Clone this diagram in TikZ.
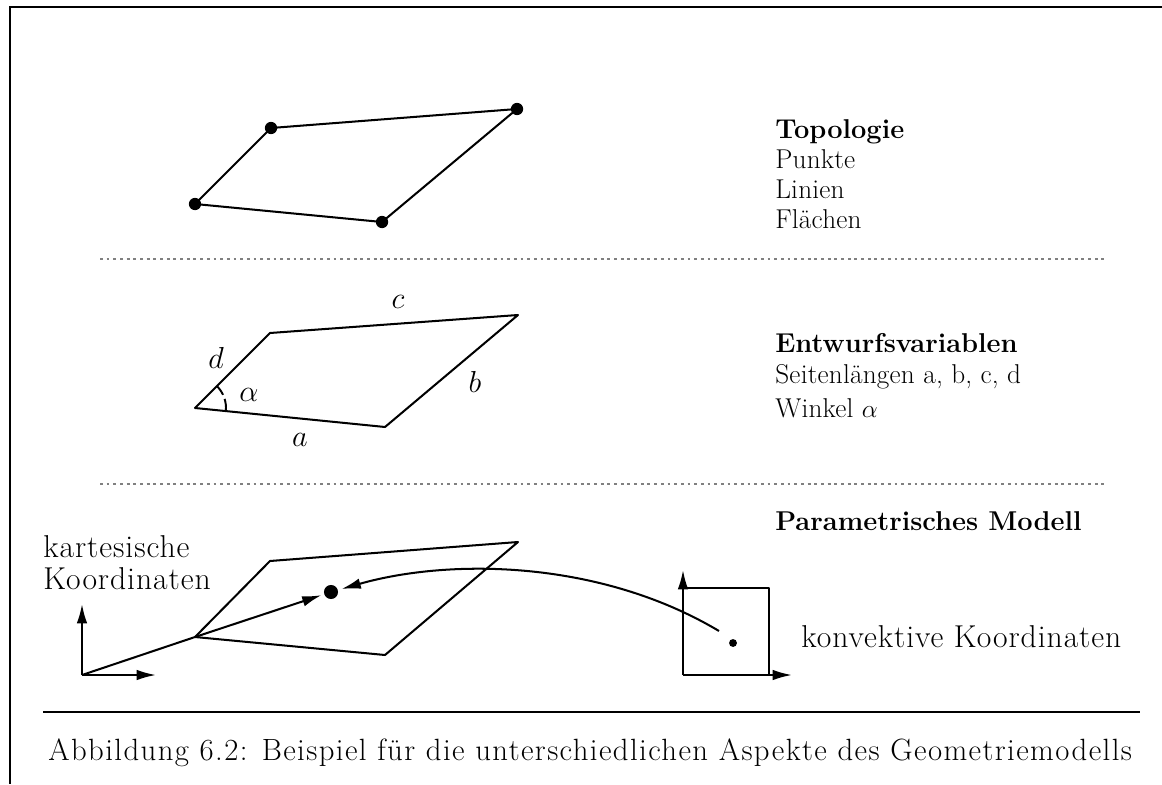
\documentclass[tikz,border=0pt]{standalone}
\usepackage{fontspec}
\newfontfamily\capfnt{Latin Modern Roman}[LetterSpace=4.6]
\newfontfamily\bigfnt{Latin Modern Roman}[LetterSpace=3]
\newfontfamily\lblfnt{Latin Modern Roman}[LetterSpace=0.8]
\usetikzlibrary{arrows.meta}
\begin{document}
\begin{tikzpicture}[x={(0.02cm,0)},y={(0,-0.02cm)},
  edge/.style={line width=1.15pt,line join=round},
  vdot/.style={circle,fill=black,inner sep=0pt,minimum size=#1},
  sep/.style={gray,line width=0.6pt,dash pattern=on 1.6pt off 2.2pt},
  lbl/.style={anchor=base west,inner sep=0pt,font=\lblfnt\fontsize{15.5}{18}\selectfont},
  hdr/.style={anchor=base west,inner sep=0pt,font=\fontsize{15.5}{18}\selectfont\bfseries},
  big/.style={anchor=base west,inner sep=0pt,font=\bigfnt\fontsize{18}{21}\selectfont},
  mlbl/.style={inner sep=0pt,font=\fontsize{19}{22}\selectfont},
  arr/.style={edge,-{Latex[length=11pt,width=6pt]}}]
\useasboundingbox (0,0) rectangle (1162,784);
% frame
\draw[line width=1.4pt] (1162,7) -- (10,7) -- (10,784);
% ---------- Topologie
\coordinate (L1) at (195,204);
\coordinate (TL1) at (271,128);
\coordinate (TR1) at (517,109);
\coordinate (BR1) at (382,222);
\draw[edge] (L1) -- (TL1) -- (TR1) -- (BR1) -- cycle;
\foreach \p in {L1,TL1,TR1,BR1} \node[vdot=7pt] (d\p) at (\p) {};
\node[hdr] (t1) at (775,138) {Topologie};
\node[lbl] (t2) at (775,168) {Punkte};
\node[lbl] (t3) at (775,198) {Linien};
\node[lbl] (t4) at (775,228) {Flächen};
\coordinate (s1a) at (100,259);
\coordinate (s1b) at (1105,259);
\draw[sep] (s1a) -- (s1b);
% ---------- Entwurfsvariablen
\coordinate (L2) at (195,408);
\coordinate (TL2) at (270,333);
\coordinate (TR2) at (518,315);
\coordinate (BR2) at (385,427);
\draw[edge] (L2) -- (TL2) -- (TR2) -- (BR2) -- cycle;
\draw[line width=1.1pt,dash pattern=on 7pt off 2.5pt on 20pt] ([shift={(-5.7:0.62cm)}]L2) arc[start angle=-5.7,end angle=45,radius=0.62cm];
\node[mlbl] (lc) at (398,302) {$c$};
\node[mlbl] (ld) at (216,358) {$d$};
\node[mlbl] (lal) at (249,395) {$\alpha$};
\node[mlbl] (lb) at (475,382) {$b$};
\node[mlbl] (la) at (300,440) {$a$};
\node[hdr] (e1) at (775,352) {Entwurfsvariablen};
\node[lbl] (e2) at (775,383) {Seitenlängen a, b, c, d};
\node[lbl] (e3) at (775,417) {Winkel $\alpha$};
\coordinate (s2a) at (100,484);
\coordinate (s2b) at (1105,484);
\draw[sep] (s2a) -- (s2b);
% ---------- Parametrisches Modell
\node[hdr] (p1) at (775,530) {Parametrisches Modell};
\node[big] (k1) at (43,557) {kartesische};
\node[big] (k2) at (43,589) {Koordinaten};
\coordinate (O) at (82,675);
\coordinate (Oy) at (82,604);
\coordinate (Ox) at (156,675);
\draw[arr] (O) -- (Oy);
\draw[arr] (O) -- (Ox);
\coordinate (L3) at (195,637);
\coordinate (TL3) at (270,561);
\coordinate (TR3) at (518,542);
\coordinate (BR3) at (385,655);
\draw[edge] (O) -- (L3);
\draw[edge] (L3) -- (TL3) -- (TR3) -- (BR3) -- cycle;
\node[vdot=8pt] (P) at (331,592) {};
\draw[arr,shorten >=1.5pt] (L3) -- (P);
% convex square
\coordinate (Q) at (683,675);
\draw[edge] (683,588) -- (769,588) -- (769,675);
\draw[arr] (Q) -- (683,570);
\draw[arr] (Q) -- (792,675);
\node[vdot=4.5pt] (U) at (733,643) {};
\coordinate (cs) at (719,631);
\draw[arr,shorten >=2pt] (cs) .. controls (600,560) and (450,558) .. (P);
\node[big] (kk) at (801,647) {konvektive Koordinaten};
% ---------- caption
\coordinate (r1) at (43,712);
\coordinate (r2) at (1140,712);
\draw[line width=1.1pt] (r1) -- (r2);
\node[anchor=base west,inner sep=0pt,font=\capfnt\fontsize{17.5}{21}\selectfont] (cap) at (48,760) {Abbildung 6.2: Beispiel für die unterschiedlichen Aspekte des Geometriemodells};
\end{tikzpicture}
\end{document}
